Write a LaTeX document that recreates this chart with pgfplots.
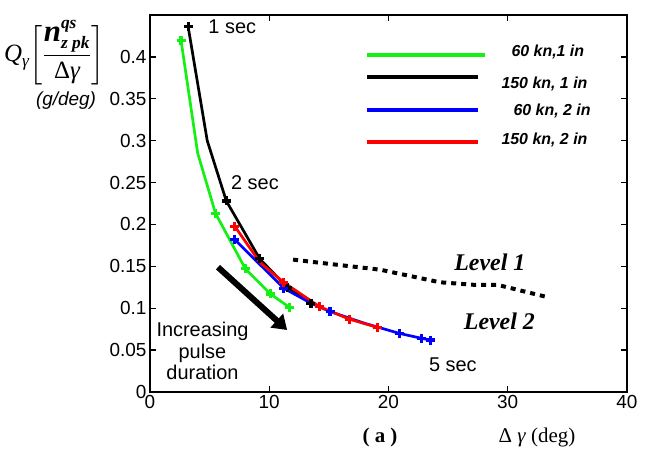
\documentclass[border=0pt]{standalone}
\usepackage{pgfplots}
\pgfplotsset{compat=1.18}
\usepackage{amsmath}
\usepackage{fontspec}
\setmainfont{Liberation Sans}
\newfontfamily\tms{Liberation Serif}
\usetikzlibrary{arrows.meta}
\definecolor{cgreen}{RGB}{20,240,20}
\definecolor{cblue}{RGB}{0,0,255}
\definecolor{cred}{RGB}{255,0,0}
\begin{document}
\begin{tikzpicture}
\useasboundingbox (-150bp,-63bp) rectangle (497bp,392bp);
\begin{axis}[
  at={(0,0)}, anchor=south west,
  scale only axis, width=477bp, height=377bp,
  xmin=0, xmax=40, ymin=0, ymax=0.45,
  xtick={0,10,20,30,40},
  ytick={0,0.05,0.1,0.15,0.2,0.25,0.3,0.35,0.4},
  tick align=inside, major tick length=6bp,
  axis line style={line width=1.3bp},
  every tick/.style={line width=1.3bp, black},
  /pgf/number format/fixed,
  /pgf/number format/assume math mode=true,
  tick label style={font=\fontsize{19}{22}\selectfont},
  clip=false,
  every axis plot/.append style={line width=2.7bp},
  mark options={solid, line width=3.2bp},
]
% 60 kn, 1 in
\addplot[cgreen, mark=+, mark size=4.5bp, mark indices={1,3,4,5,6}] coordinates {
  (2.6,0.420) (4.0,0.285) (5.5,0.213) (8.0,0.147) (10.1,0.117) (11.7,0.101)};
% 150 kn, 1 in
\addplot[black, mark=+, mark size=4.5bp, mark indices={1,3,4,5,6}] coordinates {
  (3.2,0.436) (4.8,0.300) (6.4,0.228) (9.2,0.159) (11.5,0.125) (13.5,0.106)};
% 60 kn, 2 in
\addplot[cblue, mark=+, mark size=4.5bp, mark indices={1,3,5,7,8,9}] coordinates {
  (7.1,0.182) (9.3,0.151) (11.2,0.124) (13.5,0.106) (15.1,0.096)
  (18.0,0.082) (20.9,0.070) (22.8,0.064) (23.5,0.062)};
% 150 kn, 2 in
\addplot[cred, mark=+, mark size=4.5bp, mark indices={1,3,4,5,6}] coordinates {
  (7.1,0.198) (9.2,0.155) (11.2,0.131) (14.2,0.102) (16.7,0.087) (19.1,0.077)};
% Level 1 boundary
\addplot[black, line width=4bp, dash pattern=on 5bp off 5bp, no marks] coordinates {
  (12.0,0.158) (15.0,0.153) (19.3,0.146) (24.3,0.131) (27.1,0.128) (29.1,0.128) (33.4,0.113)};

\draw[black, line width=6bp, -{Triangle[length=14bp,width=18bp]}]
  (axis cs:5.7,0.149) -- (axis cs:11.5,0.074);

\node[font=\fontsize{20}{24}\selectfont] at (axis cs:6.9,0.436) {1 sec};
\node[font=\fontsize{20}{24}\selectfont] at (axis cs:8.8,0.250) {2 sec};
\node[font=\fontsize{20}{24}\selectfont] at (axis cs:25.4,0.032) {5 sec};
\node[font=\fontsize{20}{22}\selectfont, align=center] at (axis cs:4.4,0.049)
  {Increasing\\pulse\\duration};
\node[font=\tms\bfseries\itshape\fontsize{24}{28}\selectfont] at (axis cs:28.5,0.155) {Level 1};
\node[font=\tms\bfseries\itshape\fontsize{24}{28}\selectfont] at (axis cs:29.3,0.084) {Level 2};
\end{axis}

% legend
\draw[cgreen, line width=4.5bp] (217bp,337bp) -- (335bp,337bp);
\draw[black, line width=4.5bp] (217bp,315bp) -- (328bp,315bp);
\draw[cblue, line width=4.5bp] (217bp,282bp) -- (328bp,282bp);
\draw[cred, line width=4.5bp] (217bp,250bp) -- (328bp,250bp);
\begin{scope}[every node/.style={anchor=west, font=\bfseries\itshape\fontsize{16}{19}\selectfont}]
\node at (358bp,340bp) {60 kn,1 in};
\node at (348bp,308bp) {150 kn, 1 in};
\node at (360bp,281bp) {60 kn, 2 in};
\node at (348bp,252bp) {150 kn, 2 in};
\end{scope}

% axis labels
\node[anchor=west, inner sep=0pt] at (-146bp,339bp) {\fontsize{25}{29}\selectfont
  \delimiterfactor=780 \delimitershortfall=12pt
  $\text{\tms\itshape Q}_{\text{\tms\itshape γ}}\!\left[\dfrac{\text{\tms\bfseries\itshape\fontsize{31}{34}\selectfont n}^{\text{\tms\bfseries\itshape qs}}_{\text{\tms\bfseries\itshape z pk}}}{\text{\tms Δ\itshape γ}}\right]$};
\node[font=\itshape\fontsize{19}{22}\selectfont] at (-84bp,291bp) {(g/deg)};
\node[font=\tms\bfseries\fontsize{21}{24}\selectfont] at (230bp,-45bp) {( a )};
\node[font=\tms\fontsize{21}{25}\selectfont] at (387bp,-45bp) {Δ \textit{γ} (deg)};
\end{tikzpicture}
\end{document}
